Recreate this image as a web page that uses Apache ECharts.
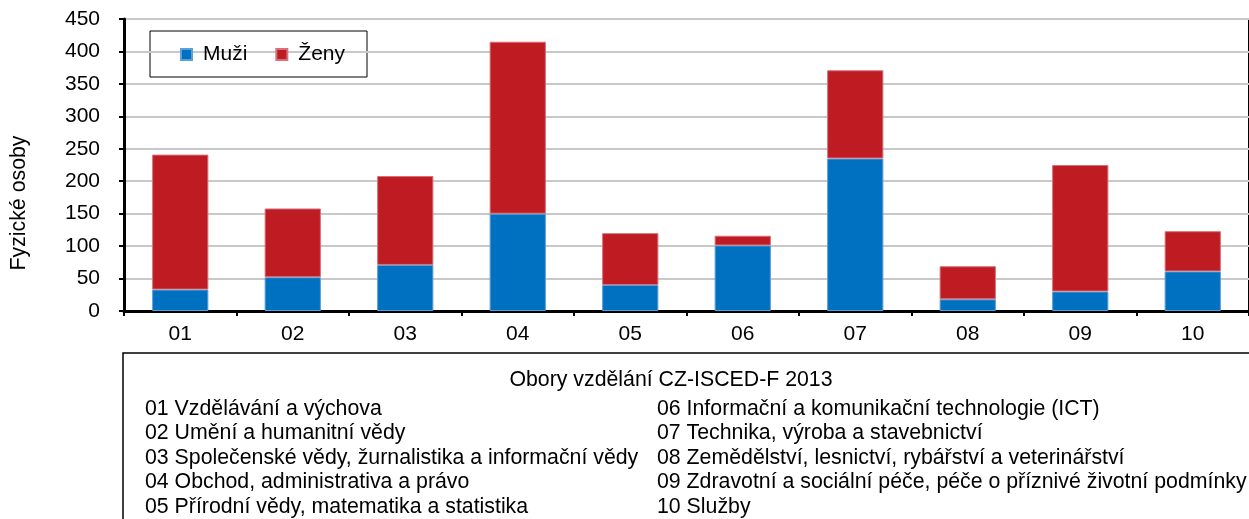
<!DOCTYPE html>
<html>
<head>
<meta charset="utf-8">
<script src="https://cdn.jsdelivr.net/npm/echarts@6/dist/echarts.min.js"></script>
<style>
  html, body { margin: 0; padding: 0; background: #fff; }
  #chartmain { width: 1249px; height: 519px; }
</style>
</head>
<body>
<div id="chartmain"></div>
<script>
  // kody oboru
  var kategorie = ['01', '02', '03', '04', '05', '06', '07', '08', '09', '10'];
  var muzi = [33, 52, 71, 150, 40, 101, 235, 18, 30, 61];
  var zeny = [208, 106, 137, 265, 80, 15, 136, 51, 195, 62];
  var osaY = [0, 50, 100, 150, 200, 250, 300, 350, 400, 450];

  var nadpisOboru = 'Obory vzdělání CZ-ISCED-F 2013';
  var oboryVlevo = [
    '01 Vzdělávání a výchova',
    '02 Umění a humanitní vědy',
    '03 Společenské vědy, žurnalistika a informační vědy',
    '04 Obchod, administrativa a právo',
    '05 Přírodní vědy, matematika a statistika'
  ];
  var oboryVpravo = [
    '06 Informační a komunikační technologie (ICT)',
    '07 Technika, výroba a stavebnictví',
    '08 Zemědělství, lesnictví, rybářství a veterinářství',
    '09 Zdravotní a sociální péče, péče o příznivé životní podmínky',
    '10 Služby'
  ];

  var font = '"Liberation Sans", Arial, sans-serif';
  var pismo = '21.3px ' + font;

  // popisky oboru pod grafem
  var grafika = [{
    type: 'rect',
    shape: { x: 123, y: 353, width: 1140, height: 180 },
    style: { fill: '#fff', stroke: '#000', lineWidth: 1.5 }
  }, {
    type: 'text',
    x: 671, y: 380,
    style: { text: nadpisOboru, font: pismo, fill: '#000', align: 'center', verticalAlign: 'middle' }
  }, {
    // nazev osy Y
    type: 'text',
    x: 19, y: 203,
    rotation: Math.PI / 2,
    style: { text: 'Fyzické osoby', font: pismo, fill: '#000', align: 'center', verticalAlign: 'middle' }
  }];
  for (var i = 0; i < oboryVlevo.length; i++) {
    grafika.push({
      type: 'text', x: 145, y: 409 + i * 24.5,
      style: { text: oboryVlevo[i], font: pismo, fill: '#000', verticalAlign: 'middle' }
    });
  }
  for (var j = 0; j < oboryVpravo.length; j++) {
    grafika.push({
      type: 'text', x: 657, y: 409 + j * 24.5,
      style: { text: oboryVpravo[j], font: pismo, fill: '#000', verticalAlign: 'middle' }
    });
  }
  // ramecek legendy
  grafika.push({
    type: 'rect',
    shape: { x: 150, y: 31, width: 217, height: 46 },
    style: { fill: '#fff', stroke: '#000', lineWidth: 1 },
    z: -1
  });

  var myChart = echarts.init(document.getElementById('chartmain'));
  var option = {
    animation: false,
    textStyle: { fontFamily: font },
    grid: {
      left: 124, right: -8, top: 19, bottom: 208,
      show: true, borderColor: '#000', borderWidth: 2
    },
    legend: {
      left: 180, top: 44, padding: 0,
      itemWidth: 11, itemHeight: 11, itemGap: 28,
      icon: 'rect',
      textStyle: { fontSize: 21, color: '#000', fontFamily: font, padding: [0, 0, 0, 6] },
      data: ['Muži', 'Ženy']
    },
    xAxis: {
      type: 'category',
      data: kategorie,
      axisLine: { lineStyle: { color: '#000', width: 3 } },
      axisTick: { show: true, length: 5, lineStyle: { color: '#000', width: 2 } },
      axisLabel: { fontSize: 21, color: '#000', margin: 13, fontFamily: font }
    },
    yAxis: {
      type: 'value',
      min: 0, max: 450, interval: 50,
      axisLine: { show: true, lineStyle: { color: '#000', width: 3 } },
      axisTick: { show: true, length: 5, lineStyle: { color: '#000', width: 2 } },
      axisLabel: { fontSize: 21, color: '#000', margin: 24, fontFamily: font,
        formatter: function (v) { return osaY.indexOf(v) >= 0 ? String(v) : ''; } },
      splitLine: { lineStyle: { color: '#c8c8c8', width: 2 } }
    },
    series: [{
      name: 'Muži', type: 'bar', stack: 'celkem',
      barWidth: '50%',
      itemStyle: { color: '#0070c0', borderColor: '#5aa0d8', borderWidth: 1 },
      data: muzi
    }, {
      name: 'Ženy', type: 'bar', stack: 'celkem',
      itemStyle: { color: '#be1b23', borderColor: '#d8707a', borderWidth: 1 },
      data: zeny
    }],
    graphic: grafika
  };
  myChart.setOption(option);
</script>
</body>
</html>
